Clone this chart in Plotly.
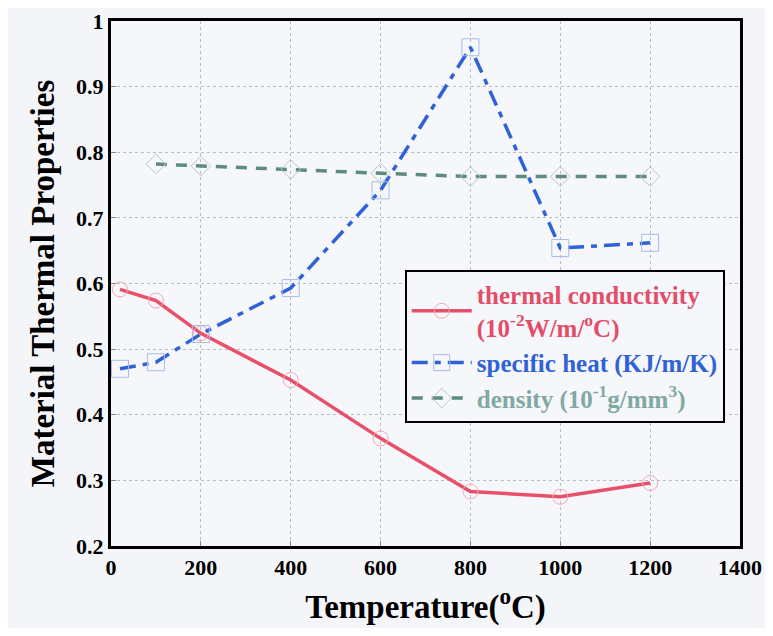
import plotly.graph_objects as go

temp_tc = [20, 100, 200, 400, 600, 800, 1000, 1200]
thermal_conductivity = [0.591, 0.574, 0.524, 0.453, 0.364, 0.283, 0.275, 0.296]
temp_sh = [20, 100, 200, 400, 600, 800, 1000, 1200]
specific_heat = [0.470, 0.480, 0.523, 0.593, 0.742, 0.960, 0.654, 0.662]
temp_d = [100, 200, 400, 600, 800, 1000, 1200]
density = [0.782, 0.779, 0.774, 0.768, 0.763, 0.763, 0.763]

x_ticks = [0, 200, 400, 600, 800, 1000, 1200, 1400]
y_ticks = [0.2, 0.3, 0.4, 0.5, 0.6, 0.7, 0.8, 0.9, 1]
y_tick_labels = ["0.2", "0.3", "0.4", "0.5", "0.6", "0.7", "0.8", "0.9", "1"]

red = "#E8506A"
blue = "#2F62D6"
green = "#5E8C7C"

fig = go.Figure()
fig.add_trace(go.Scatter(
    x=temp_tc, y=thermal_conductivity, mode="lines+markers",
    name='<b><span style="color:#E24D69">thermal conductivity</span></b><br><b><span style="color:#E24D69">(10<sup>-2</sup>W/m/<sup>o</sup>C)</span></b>',
    line=dict(color=red, width=3.5),
    marker=dict(symbol="circle-open", size=15, color="#F2A8B4", line=dict(width=1)),
))
fig.add_trace(go.Scatter(
    x=temp_sh, y=specific_heat, mode="lines+markers",
    name='<b><span style="color:#2F62D6">specific heat (KJ/m/K)</span></b>',
    line=dict(color=blue, width=3.5, dash="16px,7px,6px,7px"),
    marker=dict(symbol="square-open", size=17, color="#A8BCE8", line=dict(width=1)),
))
fig.add_trace(go.Scatter(
    x=temp_d, y=density, mode="lines+markers",
    name='<b><span style="color:#7FA9A2">density (10<sup>-1</sup>g/mm<sup>3</sup>)</span></b>',
    line=dict(color=green, width=3.5, dash="11px,9px"),
    marker=dict(symbol="diamond-open", size=15, color="#B8C8C2", line=dict(width=1)),
))

font_family = "Liberation Serif, Times New Roman, serif"
fig.update_layout(
    width=765, height=620,
    margin=dict(l=103, r=33, t=13, b=82),
    paper_bgcolor="#F4F5F9",
    plot_bgcolor="#F6F7FA",
    font=dict(family=font_family, size=25, color="black"),
    legend=dict(
        x=0.467, y=0.526, xanchor="left", yanchor="top",
        bgcolor="#F6F7FA", bordercolor="black", borderwidth=2,
        font=dict(family=font_family, size=25),
        itemwidth=60, tracegroupgap=4,
    ),
    showlegend=True,
)
fig.update_xaxes(
    range=[0, 1400], tickvals=x_ticks, ticktext=[str(v) for v in x_ticks],
    automargin=False, ticklabeloverflow="allow",
    showgrid=True, gridcolor="#B8BCC4", griddash="dot", gridwidth=1,
    showline=True, linecolor="black", linewidth=3, mirror=True,
    ticks="inside", ticklen=5, tickcolor="#888",
    tickfont=dict(family=font_family, size=22, color="black", weight="bold"),
    title=dict(text="<b>Temperature(<sup>o</sup>C)</b>", font=dict(family=font_family, size=33), standoff=16),
    zeroline=False,
)
fig.update_yaxes(
    range=[0.2, 1.0], tickvals=y_ticks, ticktext=y_tick_labels,
    automargin=False, ticklabeloverflow="allow",
    showgrid=True, gridcolor="#B8BCC4", griddash="dot", gridwidth=1,
    showline=True, linecolor="black", linewidth=3, mirror=True,
    ticks="inside", ticklen=5, tickcolor="#888",
    tickfont=dict(family=font_family, size=22, color="black", weight="bold"),
    title=dict(text="<b>Material Thermal Properties</b>", font=dict(family=font_family, size=33), standoff=12),
    zeroline=False,
)

fig.write_html("out.html")
